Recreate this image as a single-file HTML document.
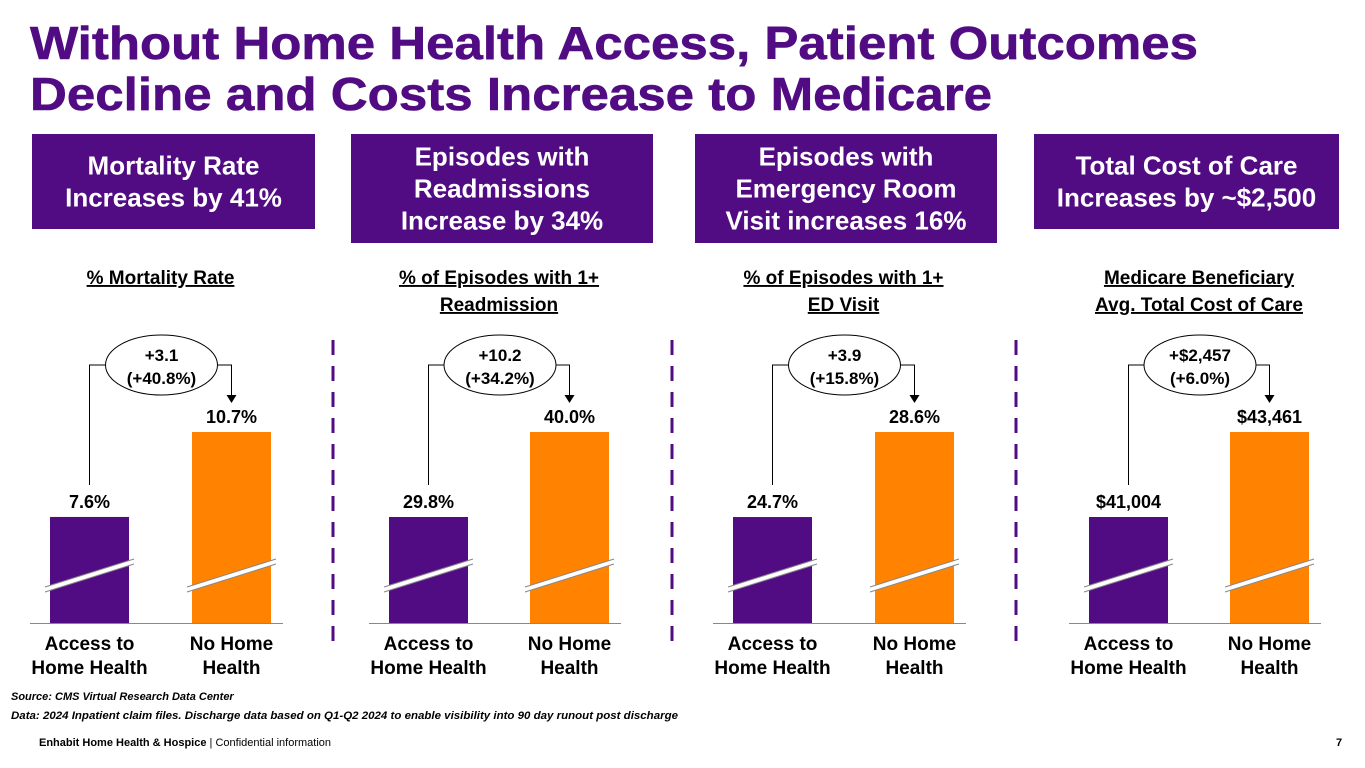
<!DOCTYPE html>
<html><head><meta charset="utf-8"><style>
html,body{margin:0;padding:0;background:#fff;}
svg, svg text{font-family:"Liberation Sans",Arial,sans-serif;}
svg{display:block;}
</style></head><body>
<svg id="chart" width="1365" height="768" viewBox="0 0 1365 768" font-family="Liberation Sans, Arial, sans-serif">
<g fill="#520C83" font-weight="700" font-size="46">
<text x="30" y="59" textLength="1168" lengthAdjust="spacingAndGlyphs" stroke="#520C83" stroke-width="0.6">Without Home Health Access, Patient Outcomes</text>
<text x="30" y="110" textLength="962" lengthAdjust="spacingAndGlyphs" stroke="#520C83" stroke-width="0.6">Decline and Costs Increase to Medicare</text>
</g>
<g id="headers"></g>
<g id="panels"></g>
<g stroke="#520C83" stroke-width="3" stroke-dasharray="15,11">
<line x1="333" y1="340" x2="333" y2="648"/>
<line x1="672" y1="340" x2="672" y2="648"/>
<line x1="1016" y1="340" x2="1016" y2="648"/>
</g>
<g font-style="italic" font-weight="700" font-size="11" fill="#000">
<text x="11" y="700">Source: CMS Virtual Research Data Center</text>
<text x="11" y="719" textLength="667" lengthAdjust="spacingAndGlyphs">Data: 2024 Inpatient claim files. Discharge data based on Q1-Q2 2024 to enable visibility into 90 day runout post discharge</text>
</g>
<g font-size="11" fill="#000">
<text x="39" y="746"><tspan font-weight="700">Enhabit Home Health &amp; Hospice</tspan>  |  Confidential information</text>
<text x="1336" y="746" font-weight="700">7</text>
</g>
</svg>
<script>
const headerTexts=[["Mortality Rate","Increases by 41%"],["Episodes with","Readmissions","Increase by 34%"],["Episodes with","Emergency Room","Visit increases 16%"],["Total Cost of Care","Increases by ~$2,500"]];
const subtitles=[["% Mortality Rate"],["% of Episodes with 1+","Readmission"],["% of Episodes with 1+","ED Visit"],["Medicare Beneficiary","Avg. Total Cost of Care"]];
const categories=["Access to|Home Health","No Home|Health"];
const accessValues=[7.6,29.8,24.7,41004];
const noHomeValues=[10.7,40.0,28.6,43461];
const valueLabels=[["7.6%","10.7%"],["29.8%","40.0%"],["24.7%","28.6%"],["$41,004","$43,461"]];
const deltaLabels=[["+3.1","(+40.8%)"],["+10.2","(+34.2%)"],["+3.9","(+15.8%)"],["+$2,457","(+6.0%)"]];
const axisMin=[3.73,17.08,19.84,37940];
const axisMax=[10.7,40.0,28.6,43461];

const NS="http://www.w3.org/2000/svg";
const FF="Liberation Sans, Arial, sans-serif";
function mk(tag,attrs,parent){const e=document.createElementNS(NS,tag);for(const k in attrs)e.setAttribute(k,attrs[k]);if(tag==='text')e.setAttribute('font-family',FF);parent.appendChild(e);return e;}
const hdr=document.getElementById('headers');
const boxes=[[32,134,283,95],[351,134,302,109],[695,134,302,109],[1034,134,305,95]];
headerTexts.forEach((lines,i)=>{
  const b=boxes[i];
  const g=mk('g',{},hdr);
  
  
  mk('rect',{x:b[0],y:b[1],width:b[2],height:b[3],fill:'#520C83'},g);
  const cx=b[0]+b[2]/2, cy=b[1]+b[3]/2, lh=32;
  lines.forEach((t,j)=>{
    const el=mk('text',{x:cx,y:cy+(j-(lines.length-1)/2)*lh+9,'text-anchor':'middle',fill:'#fff','font-size':'26','font-weight':'700'},g);
    el.textContent=t;
  });
});
const panels=document.getElementById('panels');
const barX=[[50,192],[389,530],[733,875],[1089,1230]];
const barW=79, base=623, hMax=191;
function yScale(i,v){return base-(v-axisMin[i])/(axisMax[i]-axisMin[i])*hMax;}
for(let i=0;i<4;i++){
  const g=mk('g',{},panels);
  
  
  const pc=(barX[i][0]+barX[i][1]+barW)/2;
  subtitles[i].forEach((t,j)=>{
    const el=mk('text',{x:pc,y:284+j*27,'text-anchor':'middle','font-size':'19','font-weight':'700','text-decoration':'underline',fill:'#000'},g);
    
    
    el.textContent=t;
  });
  mk('line',{x1:barX[i][0]-20,y1:base+0.5,x2:barX[i][1]+barW+12,y2:base+0.5,stroke:'#888','stroke-width':1},g);
  const vals=[accessValues[i],noHomeValues[i]];
  const colors=['#520C83','#FF8200'];
  const tops=[];
  vals.forEach((v,k)=>{
    const x=barX[i][k], y=yScale(i,v); tops.push(y);
    const r=mk('rect',{x:x,y:y,width:barW,height:base-y,fill:colors[k]},g);
    
    
    const by=base-50;
    mk('polygon',{points:`${x-5},${by+14} ${x+barW+5},${by-14} ${x+barW+5},${by-9} ${x-5},${by+19}`,fill:'#fff'},g);
    mk('line',{x1:x-5,y1:by+14,x2:x+barW+5,y2:by-14,stroke:'#888','stroke-width':1},g);
    mk('line',{x1:x-5,y1:by+19,x2:x+barW+5,y2:by-9,stroke:'#888','stroke-width':1},g);
    const lab=mk('text',{x:x+barW/2,y:y-9,'text-anchor':'middle','font-size':'18','font-weight':'700',fill:'#000'},g);
    
    
    lab.textContent=valueLabels[i][k];
    categories[k].split('|').forEach((t,j)=>{
      const c=mk('text',{x:x+barW/2,y:650+j*24,'text-anchor':'middle','font-size':'19','font-weight':'700',fill:'#000'},g);
      
      
      c.textContent=t;
    });
  });
  const x1=barX[i][0]+barW/2, x2=barX[i][1]+barW/2;
  const ex=(x1+x2)/2+1, ey=365;
  mk('polyline',{points:`${x1},${tops[0]-32} ${x1},${ey} ${ex-56},${ey}`,fill:'none',stroke:'#000','stroke-width':1},g);
  mk('polyline',{points:`${ex+56},${ey} ${x2},${ey} ${x2},${tops[1]-36}`,fill:'none',stroke:'#000','stroke-width':1},g);
  mk('polygon',{points:`${x2-5},${tops[1]-37} ${x2+5},${tops[1]-37} ${x2},${tops[1]-29}`,fill:'#000'},g);
  const el=mk('ellipse',{cx:ex,cy:ey,rx:56,ry:30,fill:'#fff',stroke:'#000','stroke-width':1},g);
  
  
  deltaLabels[i].forEach((t,j)=>{
    const d=mk('text',{x:ex,y:ey-4+j*23,'text-anchor':'middle','font-size':'17','font-weight':'700',fill:'#000'},g);
    d.textContent=t;
  });
}
</script>
</body></html>
